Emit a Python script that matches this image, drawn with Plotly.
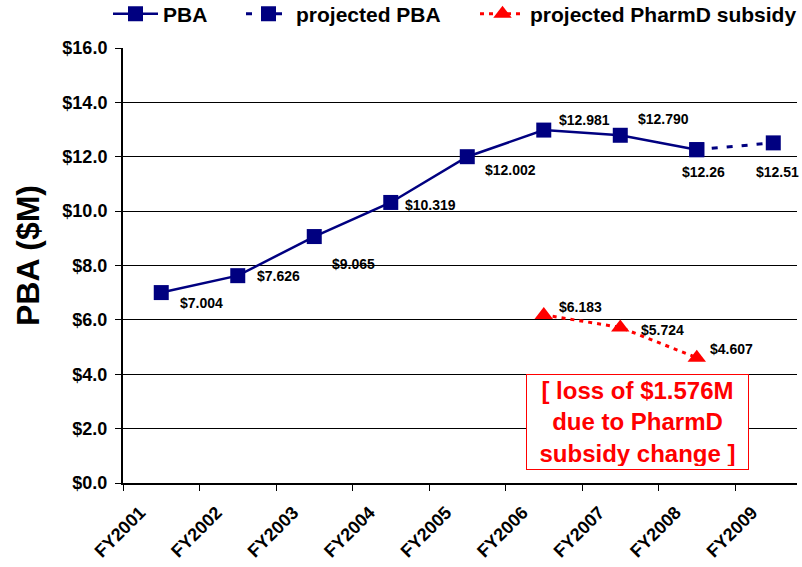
import plotly.graph_objects as go

years = ["FY2001", "FY2002", "FY2003", "FY2004", "FY2005", "FY2006", "FY2007", "FY2008", "FY2009"]
pba_years = years[:8]
pba = [7.004, 7.626, 9.065, 10.319, 12.002, 12.981, 12.790, 12.26]
pba_labels = ["$7.004", "$7.626", "$9.065", "$10.319", "$12.002", "$12.981", "$12.790", "$12.26"]
proj_years = ["FY2008", "FY2009"]
proj_pba = [12.26, 12.51]
proj_labels = ["", "$12.51"]
pharm_years = ["FY2006", "FY2007", "FY2008"]
pharm = [6.183, 5.724, 4.607]
pharm_labels = ["$6.183", "$5.724", "$4.607"]
y_ticks = [0, 2, 4, 6, 8, 10, 12, 14, 16]

FONT = "Arial, Liberation Sans, sans-serif"
NAVY = "#000080"
RED = "#FF0000"
LBL = dict(family=FONT, size=14, color="black", weight="bold")

# label placement (pixel offsets from each point: x shift, y shift (up), anchor)
pba_offsets = [(17, -10, "left"), (17, 0, "left"), (16, -27, "left"), (12, -3, "left"),
               (16, -13, "left"), (13, 10, "left"), (16, 16, "left"), (7, -22, "center")]
proj_offsets = [None, (4, -29, "center")]
pharm_offsets = [(13, 8, "left"), (19, -3, "left"), (11, 9, "left")]

fig = go.Figure()
fig.add_trace(go.Scatter(
    x=pba_years, y=pba, name="PBA", mode="lines+markers", legend="legend",
    line=dict(color=NAVY, width=2.5), marker=dict(symbol="square", size=15, color=NAVY),
    cliponaxis=False,
))
fig.add_trace(go.Scatter(
    x=proj_years, y=proj_pba, name="projected PBA", mode="lines+markers", legend="legend2",
    line=dict(color=NAVY, width=3, dash="6px,9px"), marker=dict(symbol="square", size=15, color=NAVY),
    cliponaxis=False,
))
fig.add_trace(go.Scatter(
    x=pharm_years, y=pharm, name="projected PharmD subsidy", mode="lines+markers", legend="legend3",
    line=dict(color=RED, width=3, dash="4px,5px"), marker=dict(symbol="triangle-up", size=16, color=RED),
    cliponaxis=False,
))

for xs, ys, labels, offs in [(pba_years, pba, pba_labels, pba_offsets),
                             (proj_years, proj_pba, proj_labels, proj_offsets),
                             (pharm_years, pharm, pharm_labels, pharm_offsets)]:
    for xv, yv, lab, off in zip(xs, ys, labels, offs):
        if not lab or off is None:
            continue
        dx, dy, anchor = off
        fig.add_annotation(x=xv, y=yv, xref="x", yref="y", text=lab, showarrow=False,
                           xanchor=anchor, yanchor="middle", xshift=dx, yshift=dy, font=LBL)

fig.add_annotation(
    x=6.225, y=2.24, xref="x", yref="y",
    text="[ loss of $1.576M<br>due to PharmD<br>subsidy change ]",
    showarrow=False, font=dict(family=FONT, size=24, color=RED, weight="bold"),
    bordercolor=RED, borderwidth=1, bgcolor="white", borderpad=3, align="center",
    width=215, height=88,
)
fig.add_annotation(
    x=-0.141, y=0.524, xref="paper", yref="paper", textangle=-90,
    xanchor="center", yanchor="middle",
    text="PBA ($M)", showarrow=False,
    font=dict(family=FONT, size=32, color="black", weight="bold"),
)

leg_common = dict(orientation="h", xref="container", yref="container", yanchor="middle",
                  xanchor="left", y=0.975, itemwidth=45,
                  font=dict(family=FONT, size=21, weight="bold"), bgcolor="rgba(0,0,0,0)")

fig.update_layout(
    width=802, height=567,
    paper_bgcolor="white", plot_bgcolor="white",
    margin=dict(l=123, r=5, t=48, b=84),
    font=dict(family=FONT, color="black"),
    showlegend=True,
    legend=dict(x=108 / 802, **leg_common),
    legend2=dict(x=241 / 802, **leg_common),
    legend3=dict(x=475 / 802, **leg_common),
    xaxis=dict(type="category", categoryorder="array", categoryarray=years,
               range=[-0.5, 8.31], tickson="boundaries", ticks="outside", ticklen=6,
               tickcolor="black", showline=True, linecolor="black", linewidth=2,
               showgrid=False, tickangle=-45, automargin=False,
               ticklabelshift=-21, ticklabelstandoff=10,
               tickfont=dict(family=FONT, size=18, weight="bold")),
    yaxis=dict(range=[0, 16], tickvals=y_ticks, ticktext=[f"${v:.1f}" for v in y_ticks],
               ticks="outside", ticklen=6, tickcolor="black", ticklabelstandoff=4,
               showline=True, linecolor="black", linewidth=2, automargin=False,
               showgrid=True, gridcolor="black", gridwidth=1, zeroline=False,
               tickfont=dict(family=FONT, size=18, weight="bold")),
)

fig.write_html("out.html", config={"displayModeBar": False},
               post_script="document.body.style.margin='0';")
